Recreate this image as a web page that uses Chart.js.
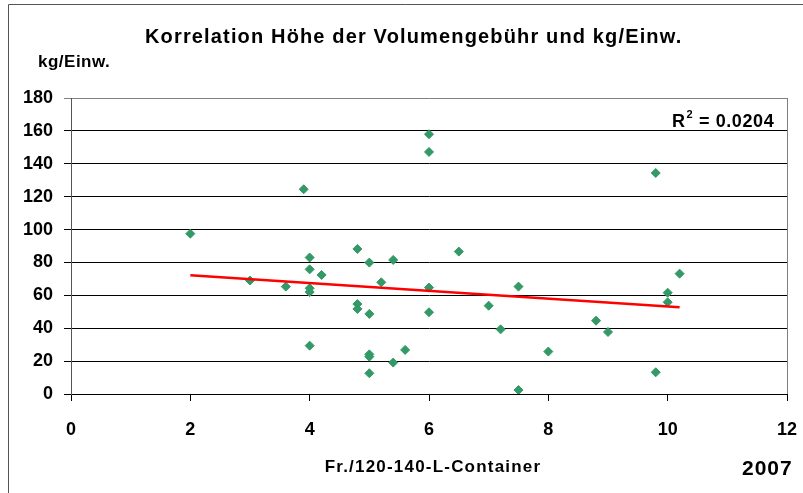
<!DOCTYPE html>
<html>
<head>
<meta charset="utf-8">
<script src="https://cdn.jsdelivr.net/npm/chart.js@4"></script>
<style>
html,body{margin:0;padding:0;background:#fff;}
#wrap{width:803px;height:493px;}
</style>
</head>
<body>
<div id="wrap"><canvas id="chart" width="803" height="493"></canvas></div>
<script>
// Fr./120-140-L-Container vs kg/Einw. (2007)
let xVals = [2, 3.9, 3, 3.6, 4, 4, 4, 4, 4, 4.2,
  6, 6, 4.8, 5, 5.4, 6.5, 5.2, 6, 7.5, 4.8,
  4.8, 5, 6, 7, 7.2, 5, 5, 5.6, 5.4, 5,
  7.5, 8, 9.8, 10.2, 10, 10, 8.8, 9, 9.8];
let yVals = [97.5, 124.5, 69, 65.3, 83, 75.8, 64.3, 62, 29.4, 72.4,
  158, 147.2, 88.2, 79.9, 81.5, 86.6, 67.9, 64.7, 65.3, 54.7,
  51.7, 48.7, 49.7, 53.7, 39.3, 24.1, 22.7, 26.8, 19.1, 12.6,
  2.4, 25.8, 134.4, 73.2, 61.6, 55.8, 44.6, 37.7, 13.2];
let trendX = [2, 10.2];
let trendY = [72.2, 52.7];
let xTicks = [0, 2, 4, 6, 8, 10, 12];
let yTicks = [0, 20, 40, 60, 80, 100, 120, 140, 160, 180];

const FONT = '"Liberation Sans", Arial, sans-serif';

function pts(xs, ys){
  return xs.map((x,i) => ({x: x, y: ys[i]}));
}

const textPlugin = {
  id: "texts",
  beforeDraw(c){
    let ctx = c.ctx;
    ctx.save();
    ctx.fillStyle = "#fff";
    ctx.fillRect(0, 0, c.width, c.height);
    // outer chart frame
    ctx.strokeStyle = "#555";
    ctx.lineWidth = 1;
    ctx.beginPath();
    ctx.moveTo(8.5, 493);
    ctx.lineTo(8.5, 4.5);
    ctx.lineTo(803, 4.5);
    ctx.stroke();
    ctx.restore();
  },
  beforeDatasetsDraw(c){
    let ctx = c.ctx, a = c.chartArea;
    ctx.save();
    ctx.strokeStyle = "#808080";
    ctx.lineWidth = 1;
    ctx.beginPath();
    ctx.moveTo(Math.round(a.right) + 0.5, a.top);
    ctx.lineTo(Math.round(a.right) + 0.5, a.bottom);
    ctx.stroke();
    ctx.restore();
  },
  afterDraw(c){
    let ctx = c.ctx;
    ctx.save();
    ctx.fillStyle = "#000";
    ctx.textBaseline = "alphabetic";

    ctx.letterSpacing = "1.15px";
    ctx.font = "bold 20px " + FONT;
    ctx.textAlign = "left";
    ctx.fillText("Korrelation Höhe der Volumengebühr und kg/Einw.", 145, 43);

    ctx.letterSpacing = "0.5px";
    ctx.font = "bold 17px " + FONT;
    ctx.fillText("kg/Einw.", 38, 67);

    // R² label
    let x = 672;
    ctx.letterSpacing = "0.6px";
    ctx.font = "bold 18px " + FONT;
    ctx.fillText("R", x, 127);
    x += ctx.measureText("R").width;
    ctx.font = "bold 11px " + FONT;
    ctx.fillText("2", x + 1, 118);
    x += ctx.measureText("2").width + 1;
    ctx.font = "bold 18px " + FONT;
    ctx.fillText(" = 0.0204", x, 127);

    ctx.letterSpacing = "1.2px";
    ctx.font = "bold 17px " + FONT;
    ctx.textAlign = "center";
    ctx.fillText("Fr./120-140-L-Container", 433, 472);

    ctx.letterSpacing = "1px";
    ctx.font = "bold 21px " + FONT;
    ctx.textAlign = "left";
    ctx.fillText("2007", 742, 475);
    ctx.restore();
  }
};

chart = new Chart(document.getElementById("chart"), {
  type: "scatter",
  data: {
    datasets: [{
      label: "kg/Einw.",
      data: pts(xVals, yVals),
      pointStyle: "rectRot",
      pointRadius: 4.5,
      pointBorderWidth: 1,
      backgroundColor: "#339966",
      borderColor: "#339966",
      order: 1
    }, {
      label: "Trend",
      type: "line",
      data: pts(trendX, trendY),
      showLine: true,
      borderColor: "#ff0000",
      borderWidth: 2.5,
      pointRadius: 0,
      fill: false,
      order: 0
    }]
  },
  options: {
    responsive: false,
    animation: false,
    devicePixelRatio: 1,
    layout: {padding: {left: 0, top: 98, right: 16, bottom: 0}},
    plugins: {
      legend: {display: false},
      title: {display: false},
      tooltip: {enabled: false}
    },
    scales: {
      x: {
        type: "linear",
        min: 0, max: 12,
        afterFit(s){
          s.height = 99;
          s.paddingLeft = 0;
          s.paddingRight = 0;
        },
        afterBuildTicks(s){ s.ticks = xTicks.map(v => ({value: v})); },
        grid: {drawOnChartArea: false, drawTicks: true, tickLength: 7, color: "#000"},
        border: {color: "#000", width: 1},
        ticks: {
          color: "#000",
          padding: 18,
          font: {family: FONT, size: 18, weight: "bold"}
        }
      },
      y: {
        min: 0, max: 180,
        afterFit(s){
          s.width = 71;
          s.paddingTop = 0;
          s.paddingBottom = 0;
        },
        afterBuildTicks(s){ s.ticks = yTicks.map(v => ({value: v})); },
        grid: {
          drawTicks: true,
          tickLength: 7,
          color: ctx => ctx.tick && ctx.tick.value === 180 ? "#808080" : "#000"
        },
        border: {color: "#555", width: 1},
        ticks: {
          color: "#000",
          padding: 11,
          font: {family: FONT, size: 18, weight: "bold"}
        }
      }
    }
  },
  plugins: [textPlugin]
});
</script>
</body>
</html>
